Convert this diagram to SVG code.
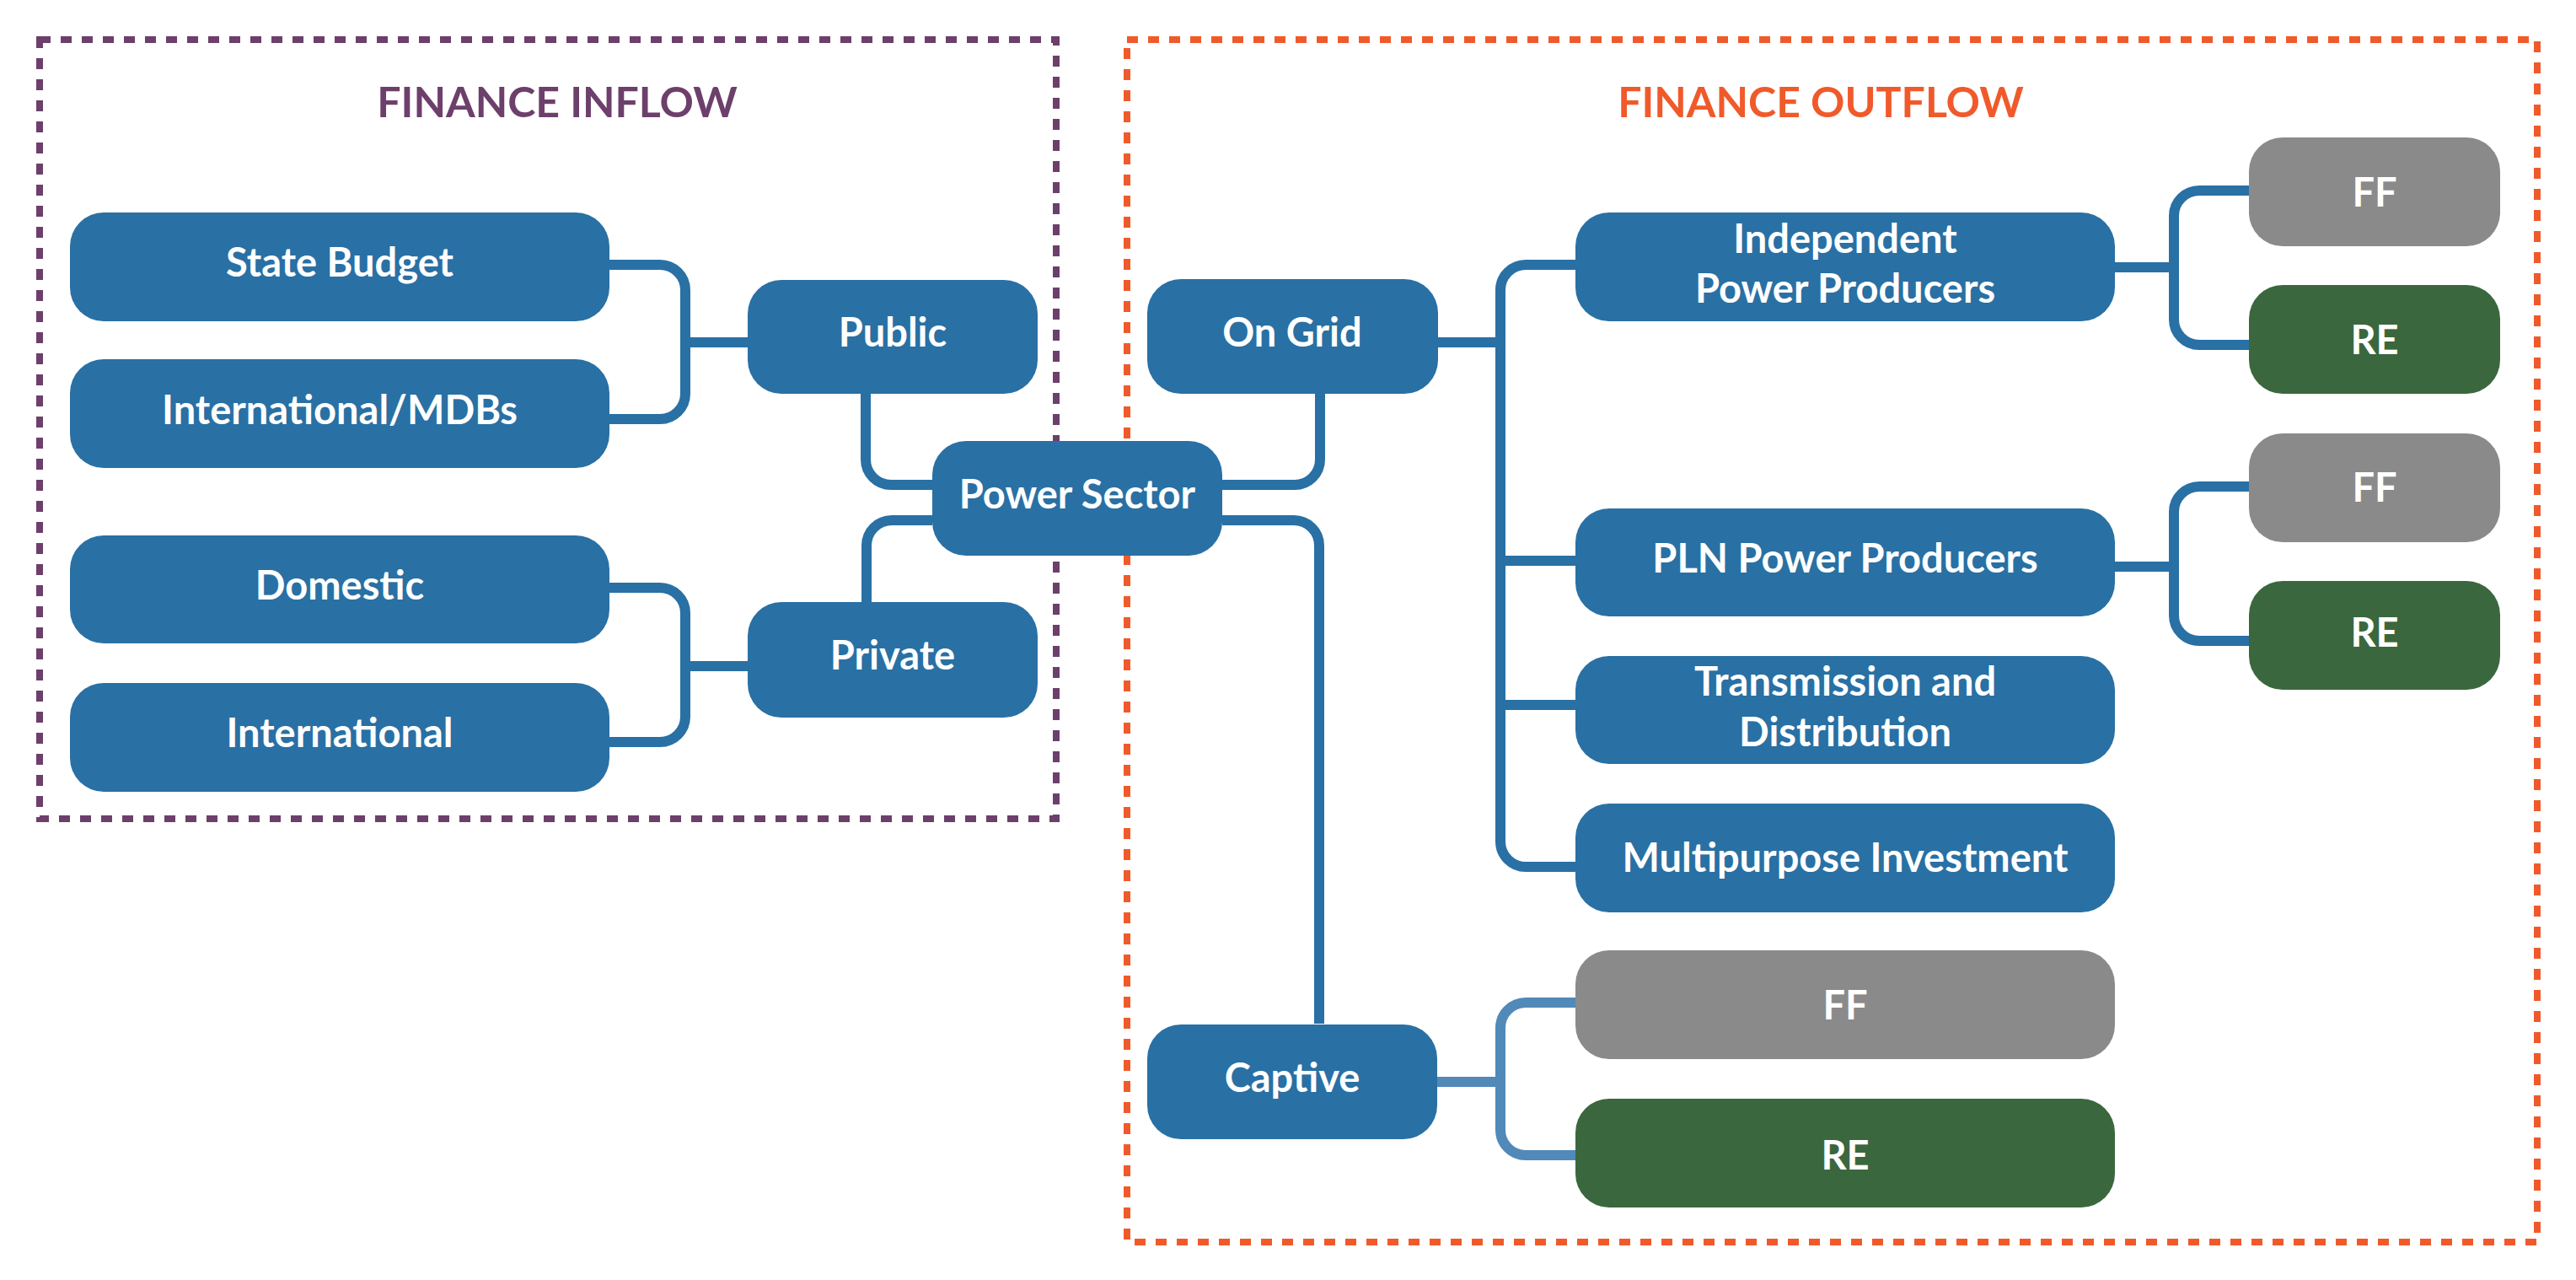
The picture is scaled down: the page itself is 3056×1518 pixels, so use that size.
<svg xmlns="http://www.w3.org/2000/svg" width="3056" height="1518" viewBox="0 0 3056 1518">
<style>
.bg{fill:#ffffff}
.frame{fill:none;stroke-width:8;stroke-dasharray:13 12}
.in{stroke:#6d3f6b}
.out{stroke:#f05a2b}
.title{font-family:Lato,"Open Sans",sans-serif;font-weight:700;font-size:50px;text-anchor:middle}
.conn path{fill:none;stroke:#2970a4;stroke-width:12}
.conn path.light{stroke:#5189b9}
.node rect{rx:40px;ry:40px}
.blue{fill:#2970a4}
.gray{fill:#8a8a8a}
.green{fill:#3b673e}
.node text{font-family:Lato,"Open Sans",sans-serif;font-weight:700;font-size:47px;fill:#ffffff;text-anchor:middle}
</style>
<rect class="bg" x="0" y="0" width="3056" height="1518"/>
<g id="frames">
<rect class="frame in" x="47" y="47" width="1206" height="924"/>
<rect class="frame out" x="1337" y="47" width="1673" height="1426"/>
<text class="title" x="661" y="139" fill="#6d3f6b">FINANCE INFLOW</text>
<text class="title" x="2160" y="139" fill="#f05a2b">FINANCE OUTFLOW</text>
</g>
<g id="connectors" class="conn">
<path d="M723,314 H783 A30,30 0 0 1 813,344 V467 A30,30 0 0 1 783,497 H723"/>
<path d="M813,406 H887"/>
<path d="M723,697 H783 A30,30 0 0 1 813,727 V850 A30,30 0 0 1 783,880 H723"/>
<path d="M813,790 H887"/>
<path d="M1027,467 V545 A30,30 0 0 0 1057,575 H1106"/>
<path d="M1028,714 V647 A30,30 0 0 1 1058,617 H1106"/>
<path d="M1450,575 H1536 A30,30 0 0 0 1566,545 V467"/>
<path d="M1450,617 H1535 A30,30 0 0 1 1565,647 V1214"/>
<path d="M1706,406 H1780"/>
<path d="M1869,314 H1810 A30,30 0 0 0 1780,344 V998 A30,30 0 0 0 1810,1028 H1869"/>
<path d="M1780,665 H1869"/>
<path d="M1780,836 H1869"/>
<path d="M2509,317 H2579"/>
<path d="M2668,226 H2609 A30,30 0 0 0 2579,256 V379 A30,30 0 0 0 2609,409 H2668"/>
<path d="M2509,672 H2579"/>
<path d="M2668,577 H2609 A30,30 0 0 0 2579,607 V730 A30,30 0 0 0 2609,760 H2668"/>
<path class="light" d="M1705,1283 H1780"/>
<path class="light" d="M1869,1189 H1810 A30,30 0 0 0 1780,1219 V1340 A30,30 0 0 0 1810,1370 H1869"/>
</g>
<g id="n-state-budget" class="node"><rect class="blue" x="83" y="252" width="640" height="129"/><text x="403" y="328">State Budget</text></g>
<g id="n-intl-mdbs" class="node"><rect class="blue" x="83" y="426" width="640" height="129"/><text x="403" y="503">International/MDBs</text></g>
<g id="n-domestic" class="node"><rect class="blue" x="83" y="635" width="640" height="128"/><text x="403" y="711">Domestic</text></g>
<g id="n-international" class="node"><rect class="blue" x="83" y="810" width="640" height="129"/><text x="403" y="886">International</text></g>
<g id="n-public" class="node"><rect class="blue" x="887" y="332" width="344" height="135"/><text x="1059" y="411">Public</text></g>
<g id="n-private" class="node"><rect class="blue" x="887" y="714" width="344" height="137"/><text x="1059" y="794">Private</text></g>
<g id="n-power-sector" class="node"><rect class="blue" x="1106" y="523" width="344" height="136"/><text x="1278" y="603">Power Sector</text></g>
<g id="n-on-grid" class="node"><rect class="blue" x="1361" y="331" width="345" height="136"/><text x="1533" y="411">On Grid</text></g>
<g id="n-captive" class="node"><rect class="blue" x="1361" y="1215" width="344" height="136"/><text x="1533" y="1295">Captive</text></g>
<g id="n-ipp" class="node"><rect class="blue" x="1869" y="252" width="640" height="129"/><text x="2189" y="300">Independent</text><text x="2189" y="359">Power Producers</text></g>
<g id="n-pln" class="node"><rect class="blue" x="1869" y="603" width="640" height="128"/><text x="2189" y="679">PLN Power Producers</text></g>
<g id="n-td" class="node"><rect class="blue" x="1869" y="778" width="640" height="128"/><text x="2189" y="825">Transmission and</text><text x="2189" y="885">Distribution</text></g>
<g id="n-multipurpose" class="node"><rect class="blue" x="1869" y="953" width="640" height="129"/><text x="2189" y="1034">Multipurpose Investment</text></g>
<g id="n-ff-captive" class="node"><rect class="gray" x="1869" y="1127" width="640" height="129"/><text x="2189" y="1209">FF</text></g>
<g id="n-re-captive" class="node"><rect class="green" x="1869" y="1303" width="640" height="129"/><text x="2189" y="1387">RE</text></g>
<g id="n-ff-ipp" class="node"><rect class="gray" x="2668" y="163" width="298" height="129"/><text x="2817" y="245">FF</text></g>
<g id="n-re-ipp" class="node"><rect class="green" x="2668" y="338" width="298" height="129"/><text x="2817" y="420">RE</text></g>
<g id="n-ff-pln" class="node"><rect class="gray" x="2668" y="514" width="298" height="129"/><text x="2817" y="595">FF</text></g>
<g id="n-re-pln" class="node"><rect class="green" x="2668" y="689" width="298" height="129"/><text x="2817" y="767">RE</text></g>
</svg>
